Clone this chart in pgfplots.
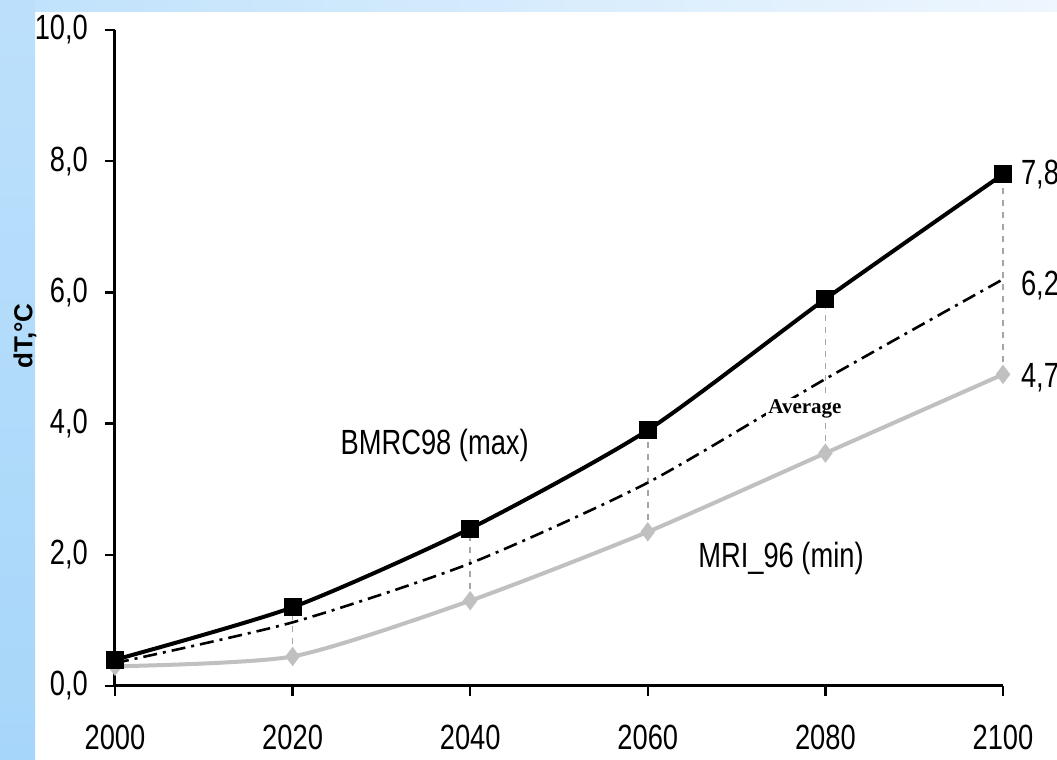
\documentclass[border=0pt]{standalone}
\usepackage{fontspec}
\setmainfont{Liberation Sans}[FakeStretch=0.78]
\newfontfamily\lblfont{Liberation Sans}
\newfontfamily\avgfont{Liberation Serif}
\usepackage{pgfplots}
\pgfplotsset{compat=1.18}
\definecolor{bgblue}{RGB}{166,214,250}
\definecolor{bgtop}{RGB}{238,246,254}
\definecolor{minc}{RGB}{192,192,192}
\definecolor{dropc}{RGB}{165,165,165}
\begin{document}
\begin{tikzpicture}
\useasboundingbox (0,0) rectangle (528.5pt,380pt);
\clip (0,0) rectangle (528.5pt,380pt);
\fill[white] (0,0) rectangle (528.5pt,380pt);
\shade[top color=bgblue!75!white, bottom color=bgblue] (0,0) rectangle (17.5pt,380pt);
\shade[left color=bgblue!70!white, right color=bgtop] (17.5pt,374pt) rectangle (528.5pt,380pt);
\begin{axis}[
  at={(57.5pt,37pt)}, anchor=origin,
  scale only axis, width=444pt, height=328pt,
  xmin=2000, xmax=2100, ymin=0, ymax=10,
  axis x line=bottom, axis y line=left,
  axis line style={-, line width=1.5pt},
  xtick={2000,2020,...,2100}, ytick={0,2,...,10},
  tick align=outside, major tick length=5pt,
  tick style={line width=1.2pt, black},
  /pgf/number format/assume math mode=true,
  ticklabel style={font=\fontsize{17.5}{21}\selectfont},
  xticklabel style={yshift=-11pt, /pgf/number format/.cd, fixed, precision=0, 1000 sep={}},
  yticklabel style={xshift=-5pt, /pgf/number format/.cd, fixed, fixed zerofill, precision=1, use comma},
  clip=false,
]
% drop lines between max and min
\addplot[dropc, dashed, line width=0.8pt] coordinates {(2020,0.45) (2020,1.2)};
\addplot[dropc, dashed, line width=0.8pt] coordinates {(2040,1.3) (2040,2.4)};
\addplot[dropc, dashed, line width=0.8pt] coordinates {(2060,2.35) (2060,3.9)};
\addplot[dropc, dashed, line width=0.8pt] coordinates {(2080,3.55) (2080,5.9)};
\addplot[dropc, dashed, line width=0.8pt] coordinates {(2100,4.75) (2100,7.8)};
% MRI_96 (min)
\addplot[minc, line width=2pt, smooth, tension=0.4, mark=diamond*, mark size=3.2pt, mark options={fill=minc, draw=minc}]
  coordinates {(2000,0.3) (2020,0.45) (2040,1.3) (2060,2.35) (2080,3.55) (2100,4.75)};
% Average
\addplot[black, line width=1.3pt, smooth, tension=0.4, dash pattern=on 7pt off 3pt on 1.5pt off 3pt]
  coordinates {(2000,0.35) (2020,0.97) (2040,1.87) (2060,3.1) (2080,4.68) (2100,6.2)};
% BMRC98 (max)
\addplot[black, line width=2pt, smooth, tension=0.4, mark=square*, mark size=3.5pt, mark options={solid, fill=black}]
  coordinates {(2000,0.4) (2020,1.2) (2040,2.4) (2060,3.9) (2080,5.9) (2100,7.8)};
\node[anchor=west, font=\fontsize{17.5}{21}\selectfont, xshift=5.5pt] at (axis cs:2100,7.8) {7,8};
\node[anchor=west, font=\fontsize{17.5}{21}\selectfont, xshift=5.5pt] at (axis cs:2100,6.1) {6,2};
\node[anchor=west, font=\fontsize{17.5}{21}\selectfont, xshift=5.5pt] at (axis cs:2100,4.7) {4,7};
\node[font=\fontsize{17.5}{21}\selectfont] at (axis cs:2036,3.67) {BMRC98 (max)};
\node[font=\fontsize{17.5}{21}\selectfont] at (axis cs:2075,1.95) {MRI\_96 (min)};
\node[font=\avgfont\bfseries\fontsize{10.5}{12}\selectfont, fill=white, inner sep=1pt] at (axis cs:2077.7,4.22) {Average};
\end{axis}
\node[rotate=90, font=\lblfont\bfseries\fontsize{13}{15}\selectfont] at (12.5pt,212pt) {dT,°C};
\end{tikzpicture}
\end{document}
